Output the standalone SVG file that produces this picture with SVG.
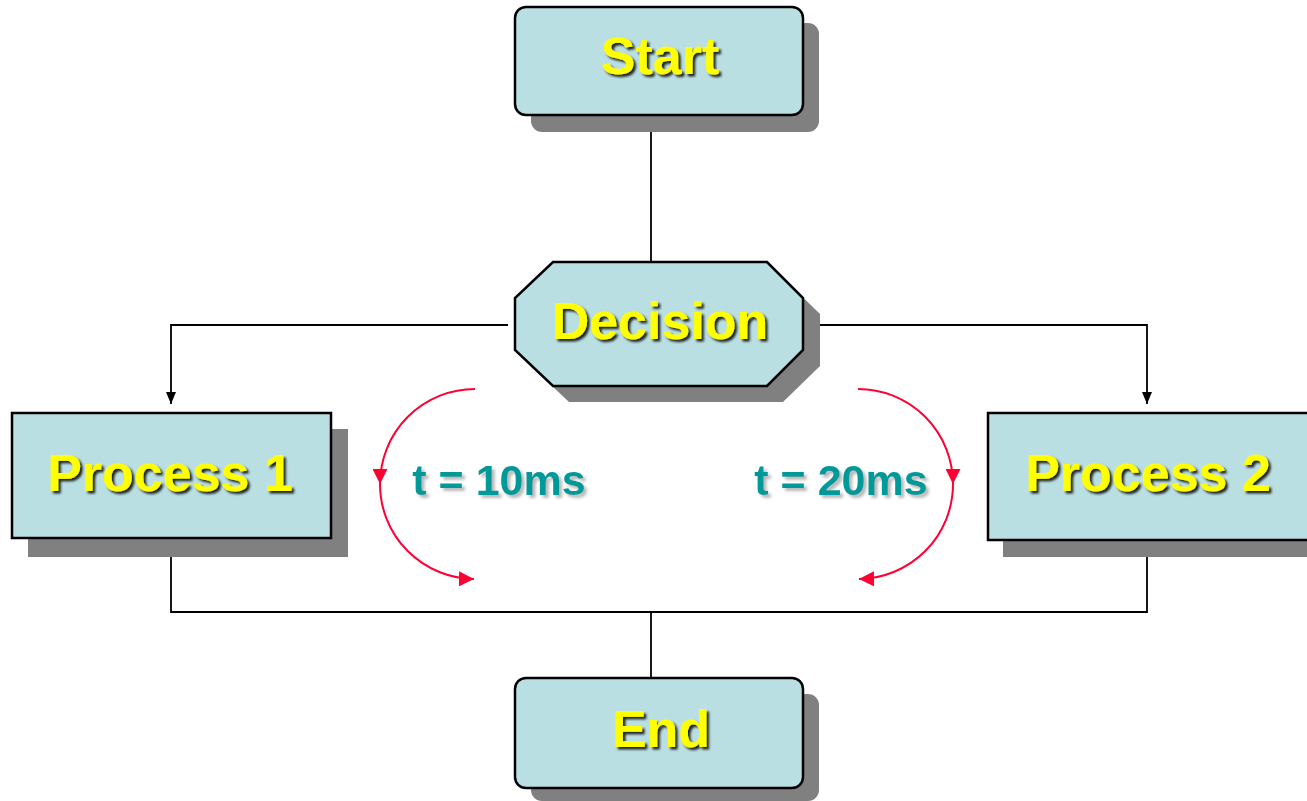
<svg xmlns="http://www.w3.org/2000/svg" width="1307" height="801" viewBox="0 0 1307 801">
<defs>
<filter id="ts" x="-10%" y="-20%" width="130%" height="150%">
<feDropShadow dx="2.5" dy="2.5" stdDeviation="1.2" flood-color="#000" flood-opacity="0.85"/>
</filter>
<filter id="ts2" x="-10%" y="-20%" width="130%" height="150%">
<feDropShadow dx="3" dy="3" stdDeviation="1.5" flood-color="#888" flood-opacity="0.6"/>
</filter>
<marker id="ab" viewBox="0 0 12 10" refX="12" refY="5" markerWidth="12" markerHeight="10" markerUnits="userSpaceOnUse" orient="auto">
<path d="M0,0 L12,5 L0,10 z" fill="#000"/>
</marker>
<marker id="ar" viewBox="0 0 14 14" refX="14" refY="7" markerWidth="15" markerHeight="15" markerUnits="userSpaceOnUse" orient="auto">
<path d="M0,0 L14,7 L0,14 z" fill="#FF0033"/>
</marker>
</defs>
<style>
.sh{fill:#808080}
.nd{fill:#BADFE2;stroke:#000;stroke-width:2.5}
.lb{font-family:"Liberation Sans",Arial,sans-serif;font-weight:bold;font-size:52px;fill:#FFFF00;text-anchor:middle;filter:url(#ts)}
.tm{font-family:"Liberation Sans",Arial,sans-serif;font-weight:bold;font-size:43px;fill:#009999;text-anchor:middle;filter:url(#ts2)}
.cn{fill:none;stroke:#000;stroke-width:1.8}
.rd{fill:none;stroke:#FF0033;stroke-width:2}
</style>
<g id="connectors">
<path class="cn" d="M651,115 V262"/>
<path class="cn" d="M508,325 H171 V404" marker-end="url(#ab)"/>
<path class="cn" d="M812,325 H1147 V404" marker-end="url(#ab)"/>
<path class="cn" d="M171,548 V612 H1147 V548"/>
<path class="cn" d="M651,612 V678"/>
</g>
<g id="start">
<rect class="sh" x="531" y="23" width="288" height="109" rx="11"/>
<rect class="nd" x="515" y="7" width="288" height="108" rx="11"/>
<text class="lb" x="660" y="74">Start</text>
</g>
<g id="decision">
<polygon class="sh" points="569,278 783,278 820,314 820,366 783,402 569,402 531,366 531,314"/>
<polygon class="nd" points="553,262 767,262 803,298 803,350 767,386 553,386 515,350 515,298"/>
<text class="lb" x="660" y="339">Decision</text>
</g>
<g id="process1">
<rect class="sh" x="28" y="429" width="320" height="128"/>
<rect class="nd" x="12" y="413" width="319" height="125"/>
<text class="lb" x="170" y="491">Process 1</text>
</g>
<g id="process2">
<rect class="sh" x="1003" y="429" width="310" height="128"/>
<rect class="nd" x="988" y="413" width="330" height="127"/>
<text class="lb" x="1148" y="491">Process 2</text>
</g>
<g id="end">
<rect class="sh" x="531" y="694" width="288" height="107" rx="11"/>
<rect class="nd" x="515" y="678" width="288" height="110" rx="11"/>
<text class="lb" x="661" y="747">End</text>
</g>
<g id="timing">
<path class="rd" d="M475,389 A95,95 0 0 0 380,484" marker-end="url(#ar)"/>
<path class="rd" d="M380,484 A95,95 0 0 0 474,579" marker-end="url(#ar)"/>
<path class="rd" d="M858,389 A95,95 0 0 1 953,484" marker-end="url(#ar)"/>
<path class="rd" d="M953,484 A95,95 0 0 1 859,579" marker-end="url(#ar)"/>
<text class="tm" x="499" y="495">t = 10ms</text>
<text class="tm" x="841" y="495">t = 20ms</text>
</g>
</svg>
